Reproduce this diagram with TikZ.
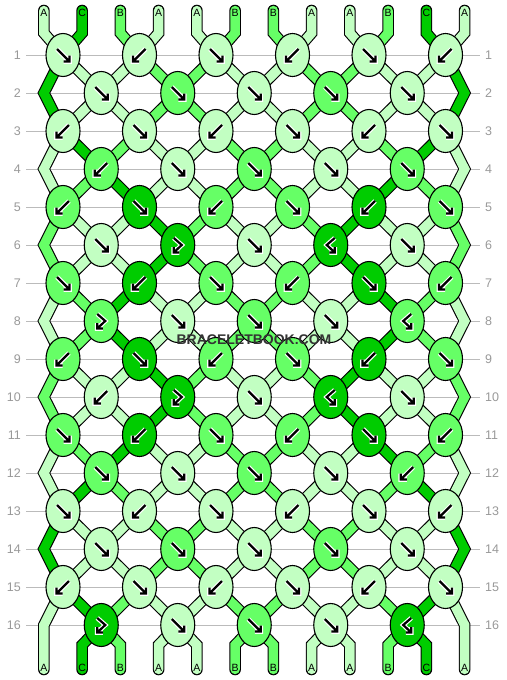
\documentclass[tikz,border=0pt]{standalone}
\usepackage{fontspec}
\setmainfont{Liberation Sans}
\usetikzlibrary{shapes.geometric}
\definecolor{colA}{HTML}{C2FFC2}
\definecolor{colB}{HTML}{66FF66}
\definecolor{colC}{HTML}{00CC00}
\definecolor{gridc}{HTML}{BBBBBB}
\definecolor{labc}{HTML}{999999}
\definecolor{wmc}{HTML}{333333}
\newcommand\kglyph[1]{\draw[white,line width=4.6,line join=miter,line cap=butt] #1; \draw[black,line width=2.2,line join=miter,line cap=butt] #1;}
\newcommand\strand[2]{\draw[black,line width=11.6,line join=miter,line cap=round] #2; \draw[color=col#1,line width=9.4,line join=miter,line cap=round] #2;}
\tikzset{
  knot/.style={ellipse, draw=black, line width=1.1, minimum width=34, minimum height=43, inner sep=0},
  rowlab/.style={text=labc, font=\fontsize{12.5}{14}\selectfont, inner sep=0},
  strlab/.style={text=black, font=\fontsize{10.5}{12}\selectfont, inner sep=0},
  wmark/.style={text=wmc, font=\bfseries\fontsize{14}{16}\selectfont, inner sep=0},
  pics/kF/.style={code={\kglyph{(-6,-6)--(6.5,6.5) (0.5,6.5)--(6.5,6.5)--(6.5,0.5)}}},
  pics/kB/.style={code={\kglyph{(6,-6)--(-6.5,6.5) (-0.5,6.5)--(-6.5,6.5)--(-6.5,0.5)}}},
  pics/kFB/.style={code={\kglyph{(-4,-7)--(4,0)--(-4,7.5) (1.5,7.5)--(-4,7.5)--(-4,2)}}},
  pics/kBF/.style={code={\kglyph{(4,-7)--(-4,0)--(4,7.5) (-1.5,7.5)--(4,7.5)--(4,2)}}},
}
\begin{document}
\begin{tikzpicture}[x=1pt,y=-1pt]
\fill[white] (0,0) rectangle (506,680);
\useasboundingbox (0,0) rectangle (506,680);
% grid, coordinates, row labels
\foreach \r in {1,...,16}{
  \pgfmathsetmacro\yy{55+38*(\r-1)}
  \foreach \cc in {0,...,10}{\coordinate (k-\r-\cc) at ({63+38.25*\cc},\yy);}
  \coordinate (e-\r-L) at (43.875,\yy);
  \coordinate (e-\r-R) at (464.625,\yy);
  \coordinate (gl-\r) at (26,\yy);
  \coordinate (gr-\r) at (480,\yy);
  \draw[gridc, line width=1] (gl-\r) -- (gr-\r);
  \node[rowlab,anchor=east] (ll-\r) at (21,\yy) {\r};
  \node[rowlab,anchor=west] (rl-\r) at (485,\yy) {\r};
}
\foreach \p in {1,...,12}{
  \pgfmathsetmacro\xx{63+38.25*(\p-1.5)}
  \coordinate (t-\p) at (\xx,10.5);
  \coordinate (u-\p) at (\xx,33);
  \coordinate (b-\p) at (\xx,645);
  \coordinate (z-\p) at (\xx,669.5);
}
% top strands
\foreach \cl [count=\p] in {A,C,B,A,A,B,B,A,A,B,C,A}{
  \pgfmathtruncatemacro\cc{mod(\p,2)==1 ? \p-1 : \p-2}
  \strand{\cl}{(t-\p) -- (u-\p) -- (k-1-\cc)}
}
% inner strands
\foreach \r/\st in {
 1/{C,A,A,B,B,A,A,B,B,A,A,C},
 2/{C,A,A,B,B,A,A,B,B,A,A,C},
 3/{A,C,B,A,A,B,B,A,A,B,C,A},
 4/{A,B,C,A,A,B,B,A,A,C,B,A},
 5/{B,A,A,C,B,A,A,B,C,A,A,B},
 6/{B,A,A,C,B,A,A,B,C,A,A,B},
 7/{A,B,C,A,A,B,B,A,A,C,B,A},
 8/{A,B,C,A,A,B,B,A,A,C,B,A},
 9/{B,A,A,C,B,A,A,B,C,A,A,B},
 10/{B,A,A,C,B,A,A,B,C,A,A,B},
 11/{A,B,C,A,A,B,B,A,A,C,B,A},
 12/{A,C,B,A,A,B,B,A,A,B,C,A},
 13/{C,A,A,B,B,A,A,B,B,A,A,C},
 14/{C,A,A,B,B,A,A,B,B,A,A,C},
 15/{A,C,B,A,A,B,B,A,A,B,C,A}}{
  \pgfmathtruncatemacro\rn{\r+1}
  \foreach \cl [count=\p] in \st {
    \ifnum\p>1\relax\ifnum\p<12\relax
      \pgfmathtruncatemacro\ca{mod(\p+\r,2)==0 ? \p-1 : \p-2}
      \pgfmathtruncatemacro\cb{mod(\p+\r,2)==0 ? \p-2 : \p-1}
      \strand{\cl}{(k-\r-\ca) -- (k-\rn-\cb)}
    \fi\fi
  }
}
% edge strands
\foreach \r/\cl in {2/C,4/A,6/B,8/A,10/B,12/A,14/C}{
  \pgfmathtruncatemacro\ra{\r-1}
  \pgfmathtruncatemacro\rb{\r+1}
  \strand{\cl}{(k-\ra-0) -- (e-\r-L) -- (k-\rb-0)}
  \strand{\cl}{(k-\ra-10) -- (e-\r-R) -- (k-\rb-10)}
}
\strand{A}{(k-15-0) -- (e-16-L) -- (z-1)}
\strand{A}{(k-15-10) -- (e-16-R) -- (z-12)}
% bottom strands
\foreach \cl [count=\p] in {A,C,B,A,A,B,B,A,A,B,C,A}{
  \ifnum\p>1\relax\ifnum\p<12\relax
    \pgfmathtruncatemacro\cc{mod(\p,2)==0 ? \p-1 : \p-2}
    \strand{\cl}{(k-16-\cc) -- (b-\p) -- (z-\p)}
  \fi\fi
}
% string labels
\foreach \cl [count=\p] in {A,C,B,A,A,B,B,A,A,B,C,A}{
  \pgfmathsetmacro\xx{63+38.25*(\p-1.5)}
  \node[strlab] (tl-\p) at (\xx,12.5) {\cl};
  \node[strlab] (bl-\p) at (\xx,668) {\cl};
}
% knots
\foreach \r/\ks in {
 1/{F/A,B/A,F/A,B/A,F/A,B/A},
 2/{F/A,F/B,F/A,F/B,F/A},
 3/{B/A,F/A,B/A,F/A,B/A,F/A},
 4/{B/B,F/A,F/B,F/A,F/B},
 5/{B/B,F/C,B/B,F/B,B/C,F/B},
 6/{F/A,FB/C,F/A,BF/C,F/A},
 7/{F/B,B/C,F/B,B/B,F/C,B/B},
 8/{FB/B,F/A,F/B,F/A,BF/B},
 9/{B/B,F/C,B/B,F/B,B/C,F/B},
 10/{B/A,FB/C,F/A,BF/C,F/A},
 11/{F/B,B/C,F/B,B/B,F/C,B/B},
 12/{F/B,F/A,F/B,F/A,B/B},
 13/{F/A,B/A,F/A,B/A,F/A,B/A},
 14/{F/A,F/B,F/A,F/B,F/A},
 15/{B/A,F/A,B/A,F/A,B/A,F/A},
 16/{FB/C,F/A,F/B,F/A,BF/C}}{
  \foreach \kt/\cl [count=\i] in \ks {
    \pgfmathtruncatemacro\cc{mod(\r,2)==1 ? 2*(\i-1) : 2*\i-1}
    \node[knot, fill=col\cl] (n-\r-\cc) at (k-\r-\cc) {};
    \pic at (k-\r-\cc) {k\kt};
  }
}
\node[wmark] (wm) at (254,340) {BRACELETBOOK.COM};
\end{tikzpicture}
\end{document}
